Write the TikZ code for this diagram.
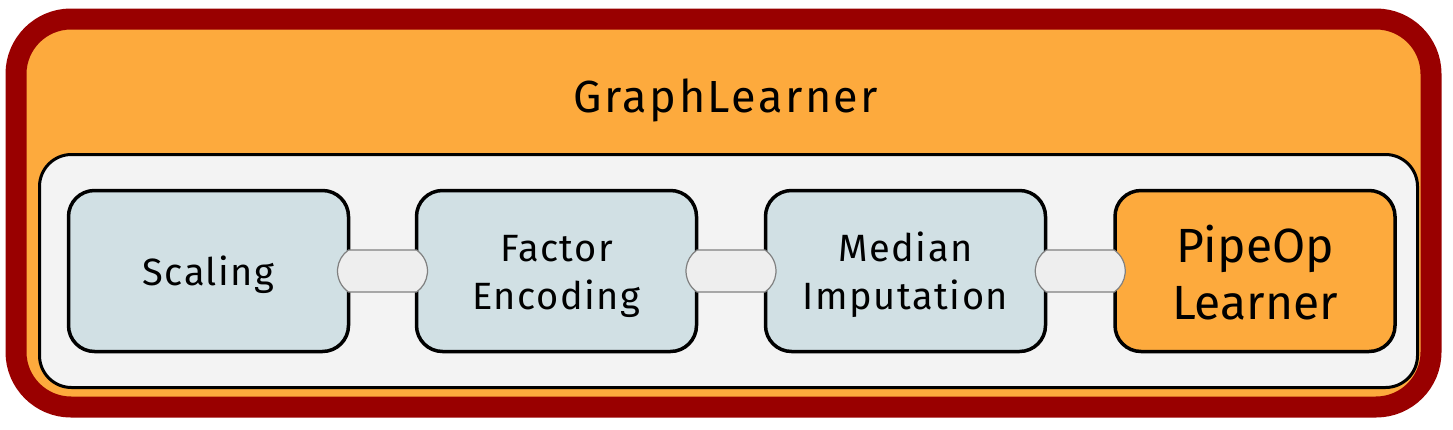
\documentclass[tikz,border=0pt]{standalone}
\usepackage{fontspec}
\setmainfont{Fira Sans}
\usetikzlibrary{shapes.misc,calc}
\definecolor{darkred}{HTML}{990000}
\definecolor{lorange}{HTML}{FDAA3D}
\definecolor{panelgrey}{HTML}{F3F3F3}
\definecolor{opblue}{HTML}{D1E0E4}
\definecolor{capfill}{HTML}{EEEEEE}
\definecolor{capline}{HTML}{808080}
\tikzset{
  opbox/.style={draw=black, line width=3.5pt, rounded corners=26pt, fill=opblue,
    minimum width=280pt, minimum height=161pt, inner sep=0pt},
  learnbox/.style={opbox, fill=lorange},
  optext/.style={align=center, inner sep=0pt,
    font=\fontsize{38}{48}\selectfont\addfontfeatures{LetterSpace=4}},
  learntext/.style={align=center, inner sep=0pt, font=\fontsize{48}{57}\selectfont},
  capsule/.style={draw=capline, line width=1.2pt, fill=capfill, rounded rectangle,
    rounded rectangle arc length=110, minimum width=90pt, minimum height=42pt, inner sep=0pt}
}
\begin{document}
\begin{tikzpicture}[x=1pt,y=-1pt]
\useasboundingbox (0,0) rectangle (1453,429);
\node[draw=darkred, line width=21pt, fill=lorange, rounded corners=55pt,
  minimum width=1415pt, minimum height=388pt, inner sep=0pt] (outer) at (723.5,213) {};
\node[font=\fontsize{45}{52}\selectfont\addfontfeatures{LetterSpace=5.5}] (title) at (726,100) {GraphLearner};
\node[draw=black, line width=3pt, fill=panelgrey, rounded corners=32pt,
  minimum width=1378pt, minimum height=233pt, inner sep=0pt] (panel) at (728.5,271) {};
\node[opbox] (scal) at (208.5,271) {};
\node[opbox] (fact) at (556.5,271) {};
\node[opbox] (med) at (905.5,271) {};
\node[learnbox] (lrn) at (1255,271) {};
\node[optext] (tscal) at ([yshift=-4pt]scal.center) {Scaling};
\node[optext] (tfact) at ([yshift=-5pt]fact.center) {Factor\\Encoding};
\node[optext] (tmed) at ([yshift=-4pt]med.center) {Median\\Imputation};
\node[learntext] (tlrn) at ([yshift=-2pt]lrn.center) {PipeOp\\Learner};
\node[capsule] (c1) at ($(scal.east)!0.5!(fact.west)$) {};
\node[capsule] (c2) at ($(fact.east)!0.5!(med.west)$) {};
\node[capsule] (c3) at ($(med.east)!0.5!(lrn.west)$) {};
\end{tikzpicture}
\end{document}
